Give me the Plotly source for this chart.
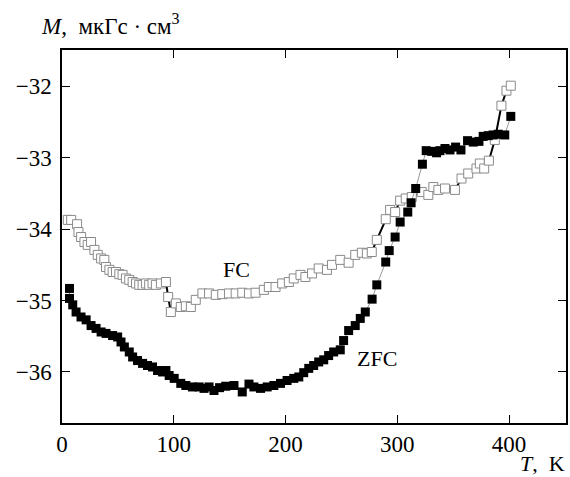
import plotly.graph_objects as go

# ZFC (filled squares)
zfc_T = [6.7, 6.7, 9.6, 12.6, 17, 21.6, 26, 30.5, 35, 39.4, 45.3, 49.8, 52.8, 55.8, 60.2, 63.2,
         67.6, 72.1, 76.5, 81, 85.5, 90, 93, 95.9, 100.4, 106.3, 110.8, 116.7, 122.7, 127.1,
         131.6, 136, 141, 146.5, 153.9, 161.3, 167.3, 171.7, 177.7, 183.6, 189.6, 195.5, 201.4,
         207.4, 211.9, 216.3, 220.8, 225.2, 229.7, 234.2, 238.6, 243.1, 249, 252, 256.5, 262.4,
         266.9, 271.4, 277.5, 281.7, 289.7, 292.8, 298.1, 302.6, 309.4, 312.4, 316.5, 322.5,
         325.9, 330.8, 335.2, 338.2, 342.7, 347.2, 352.2, 357, 362.9, 368, 373.1, 376.9, 381.4,
         385.8, 390.3, 396.2, 401.6]
zfc_M = [-34.83, -34.97, -35.06, -35.16, -35.23, -35.27, -35.35, -35.39, -35.44, -35.46, -35.49,
         -35.51, -35.58, -35.65, -35.72, -35.79, -35.84, -35.88, -35.91, -35.93, -35.98, -36.0,
         -35.98, -36.05, -36.09, -36.16, -36.19, -36.21, -36.21, -36.23, -36.21, -36.26, -36.22,
         -36.2, -36.19, -36.28, -36.17, -36.21, -36.23, -36.21, -36.19, -36.16, -36.12, -36.09,
         -36.07, -36.01, -35.95, -35.91, -35.86, -35.83, -35.77, -35.72, -35.69, -35.56, -35.42,
         -35.35, -35.25, -35.16, -34.98, -34.78, -34.46, -34.30, -34.11, -33.90, -33.76, -33.63,
         -33.43, -33.09, -32.90, -32.91, -32.93, -32.90, -32.87, -32.89, -32.85, -32.89, -32.76,
         -32.78, -32.77, -32.70, -32.69, -32.68, -32.67, -32.68, -32.42]

# FC (open squares)
fc_T = [5.2, 8.2, 13.5, 14.7, 17.1, 20.1, 23, 26, 29, 32, 35, 37.9, 39.4, 42.4, 45.3, 48.3, 51.3,
        54.2, 57.2, 60.2, 63.2, 66.2, 69.1, 72.1, 75.1, 78, 81, 84, 88.5, 93, 95, 97.4, 101.9,
        106.3, 110.8, 115.3, 119.7, 125.6, 131.6, 137.6, 143.4, 149.4, 155.4, 161.3, 167.3, 173.2,
        180.6, 185.1, 191.1, 197, 203, 207.4, 213.4, 217.8, 223.7, 229.7, 237.1, 241.6, 249,
        256.5, 262.4, 268.3, 272.8, 277.2, 281.7, 289.7, 293.6, 298.1, 302.6, 307.6, 313, 321.9,
        327.8, 332.3, 336.8, 342.7, 351.6, 357.5, 363.5, 370.9, 373.9, 377.8, 382, 387.3, 393.2,
        397.7, 401.6]
fc_M = [-33.87, -33.87, -33.93, -34.04, -34.11, -34.18, -34.22, -34.18, -34.29, -34.36, -34.41,
        -34.43, -34.53, -34.57, -34.60, -34.60, -34.63, -34.64, -34.69, -34.71, -34.74, -34.76,
        -34.78, -34.78, -34.76, -34.78, -34.76, -34.78, -34.76, -34.74, -34.95, -35.16, -35.04,
        -35.09, -35.08, -35.09, -34.99, -34.90, -34.90, -34.92, -34.91, -34.90, -34.90, -34.89,
        -34.90, -34.89, -34.85, -34.81, -34.81, -34.76, -34.74, -34.69, -34.64, -34.67, -34.62,
        -34.55, -34.57, -34.50, -34.43, -34.47, -34.36, -34.33, -34.34, -34.32, -34.15, -33.86,
        -33.73, -33.76, -33.60, -33.57, -33.55, -33.48, -33.52, -33.41, -33.45, -33.43, -33.45,
        -33.29, -33.22, -33.15, -33.08, -33.15, -33.04, -32.75, -32.27, -32.06, -31.99]

x_ticks = [0, 100, 200, 300, 400]
y_ticks = [-36, -35, -34, -33, -32]

FONT = "Liberation Serif, Times New Roman, serif"

fig = go.Figure()
fig.add_trace(go.Scatter(
    x=fc_T, y=fc_M, mode="lines+markers",
    line=dict(color="black", width=2),
    marker=dict(symbol="square", size=9, color="white",
                line=dict(color="#8a8a8a", width=1)),
    showlegend=False))
fig.add_trace(go.Scatter(
    x=zfc_T, y=zfc_M, mode="lines+markers",
    line=dict(color="#999999", width=1),
    marker=dict(symbol="square", size=9, color="black", line=dict(width=0)),
    showlegend=False))

axis_common = dict(showline=True, linecolor="black", linewidth=1.5, mirror="ticks",
                   ticks="inside", ticklen=8, tickwidth=1, tickcolor="black",
                   showgrid=False, zeroline=False,
                   tickfont=dict(family=FONT, size=23, color="black"))

fig.update_xaxes(range=[0, 451], tickvals=x_ticks, ticklabelstandoff=0, **axis_common)
fig.update_yaxes(range=[-36.715, -31.49], tickvals=y_ticks, ticklabelstandoff=4, **axis_common)

fig.add_annotation(x=155.7, y=-34.57, text="FC", showarrow=False,
                   font=dict(family=FONT, size=22, color="black"))
fig.add_annotation(x=281.9, y=-35.81, text="ZFC", showarrow=False,
                   font=dict(family=FONT, size=22, color="black"))
fig.add_annotation(xref="paper", yref="paper", x=-0.045, y=1.0, yshift=26,
                   xanchor="left", yanchor="middle", showarrow=False,
                   text="<i>M</i>,&nbsp; мкГс · см<sup>3</sup>",
                   font=dict(family=FONT, size=23, color="black"))
fig.add_annotation(xref="paper", yref="paper", x=1.0, y=0.0, yshift=-54,
                   xanchor="right", yanchor="bottom", showarrow=False,
                   borderpad=0,
                   text="<i>T</i>,&nbsp; K",
                   font=dict(family=FONT, size=22, color="black"))

fig.update_layout(width=570, height=477,
                  margin=dict(l=62, r=2, t=50, b=54),
                  plot_bgcolor="white", paper_bgcolor="white",
                  font=dict(family=FONT))

fig.write_html("out.html")
